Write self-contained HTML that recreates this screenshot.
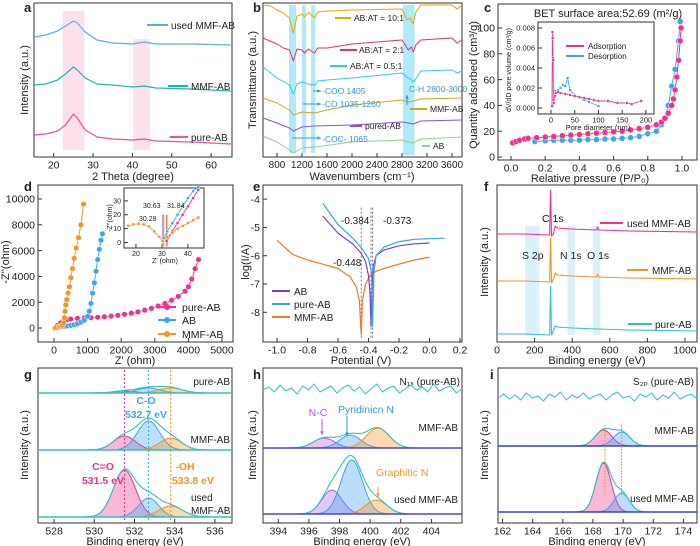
<!DOCTYPE html>
<html><head><meta charset="utf-8"><style>
html,body{margin:0;padding:0;background:#fff;}
svg{display:block;font-family:"Liberation Sans",sans-serif;}
</style></head><body>
<svg id="fig" width="700" height="546" viewBox="0 0 700 546"></svg>
<script>
// ---------- DATA ----------
const aX=[15,18,21,23,25,26,28,31,35,40,43,46,55,65];
const aUsed=[37,35,31,26,21,23,32,40,43,44,42,44,44,45];
const aMMF=[85,84,80,74,67,70,78,84,85,87,86,88,89,91];
const aPure=[135,134,131,125,114,118,130,137,139,140,139,141,142,144];
const b101X=[576,700,800,900,1000,1060,1120,1200,1240,1300,1400,1450,1600,2000,2800,2880,2930,2980,3020,3100,3600,3680,3760];
const b101Y=[5,6,10,13,18,33,16,14,17,12,18,12,11,10,9,20,18,24,12,5,5,9,5];
const b21X=[576,800,900,1000,1060,1120,1200,1240,1300,1400,1450,1600,2000,2800,2900,2950,2980,3020,3100,3600,3680,3760];
const b21Y=[38,44,48,50,61,49,50,53,49,53,48,48,44,40,50,47,52,45,40,38,43,40];
const b051X=[576,800,1000,1060,1120,1200,1300,1400,1450,1600,2000,2800,2900,2950,2990,3050,3100,3600,3680,3760];
const b051Y=[67,78,85,94,84,82,84,85,81,80,78,73,78,80,82,76,71,70,73,71];
const bMMFX=[576,800,1000,1060,1200,1400,1600,2000,2800,2900,2980,3100,3760];
const bMMFY=[98,103,110,115,112,113,110,105,100,102,101,99,98];
const bPurX=[576,800,1000,1060,1200,1400,2000,2800,2900,2980,3100,3760];
const bPurY=[118,123,128,131,127,126,125,122,123,124,121,120];
const bABX=[576,800,1000,1060,1200,1400,2000,2800,2900,2980,3100,3760];
const bABY=[136,142,150,153,148,147,142,140,142,143,139,137];
const bBands=[[992,1104],[1200,1264],[1344,1408],[2816,3000]];
const cAdsP=[0.01,0.03,0.05,0.08,0.1,0.15,0.2,0.25,0.3,0.35,0.4,0.45,0.5,0.55,0.6,0.65,0.7,0.75,0.8,0.85,0.88,0.9,0.92,0.94,0.95,0.96,0.97,0.98,0.99,0.995];
const cAdsQ=[11,12,13,14,14.5,15,15.5,16,16.5,17,17.5,18,18.5,19,19.5,20,21,22,23,25,27,30,34,40,45,52,62,75,90,100];
const cDesP=[0.14,0.2,0.25,0.3,0.35,0.4,0.45,0.5,0.55,0.6,0.65,0.7,0.75,0.8,0.85,0.88,0.9,0.92,0.94,0.96,0.98,0.99];
const cDesQ=[12,12.5,13,13,13,13,13.5,13.5,14,14,14.5,15,16,18,20,25,30,40,55,68,90,105];
const ciAdsD=[2,3,3.5,4,4.5,5,6,8,10,15,20,30,40,50,60,70,80,90,100,120,140,160,170,190];
const ciAdsV=[0.0002,0.0076,0.007,0.005,0.0048,0.0008,0.0005,0.0012,0.0015,0.0016,0.0015,0.0014,0.0013,0.0012,0.0011,0.001,0.0009,0.0008,0.0007,0.0007,0.0005,0.0005,0.0004,0.0007];
const ciDesD=[4,6,8,10,15,20,25,30,35,40,50,60,70,80,100];
const ciDesV=[0.0003,0.001,0.0017,0.0017,0.0018,0.002,0.0023,0.0022,0.003,0.0018,0.0013,0.001,0.0008,0.0006,0.0002];
const dPureX=[50,100,200,300,400,500,700,900,1100,1300,1500,1700,1900,2100,2300,2500,2700,2900,3100,3300,3500,3700,3900,4000,4100,4200,4300];
const dPureY=[0,200,400,550,650,700,750,780,800,830,870,920,980,1060,1150,1250,1380,1520,1700,1900,2150,2450,2850,3200,3800,4600,5300];
const dABX=[50,100,200,300,400,500,600,700,800,900,1000,1050,1100,1150,1200,1250,1300,1350,1400,1440];
const dABY=[0,50,100,130,160,200,250,330,450,600,900,1300,1900,2700,3500,4400,5300,6100,6800,7300];
const dMMFX=[30,80,150,200,250,290,310,330,350,380,420,460,500,550,600,660,730,800,880];
const dMMFY=[0,50,100,150,220,400,800,1300,1800,2200,2700,3200,3900,4600,5400,6200,7000,8000,9600];
const diArcX=[17,19,21,23,25,27,29,30.3];
const diArcY=[12,13,13.5,13,11.5,8,4,1];
const diPureX=[31.8,34,36,38,40,42,44];
const diPureY=[1,8,14,20,26,32,38];
const diABX=[30.6,32,34,36,38,40,42,44];
const diABY=[1,8,14,20,26,32,37,40];
const diMMFX=[30.3,32,34,36,38,40,42,44];
const diMMFY=[1,4,7,10,12,14,16,18];
const diMarks=[30.28,30.63,31.84];
const eABX=[-0.7,-0.6,-0.5,-0.45,-0.42,-0.4,-0.39,-0.384,-0.378,-0.37,-0.35,-0.3,-0.2,-0.1,0];
const eABY=[-4.6,-5.2,-5.6,-5.9,-6.2,-6.7,-7.3,-8.5,-7.3,-6.4,-6.0,-5.8,-5.65,-5.58,-5.55];
const ePureX=[-0.7,-0.6,-0.5,-0.45,-0.4,-0.38,-0.373,-0.365,-0.35,-0.3,-0.2,-0.1,0,0.1];
const ePureY=[-4.15,-4.9,-5.4,-5.7,-6.1,-6.6,-8.5,-6.6,-6.0,-5.7,-5.5,-5.42,-5.4,-5.38];
const eMMFX=[-1.0,-0.9,-0.8,-0.7,-0.6,-0.52,-0.48,-0.46,-0.448,-0.44,-0.42,-0.39,-0.35,-0.3,-0.2,-0.1,0];
const eMMFY=[-5.45,-5.95,-6.15,-6.3,-6.45,-6.75,-7.1,-7.6,-8.8,-7.6,-7.0,-6.7,-6.55,-6.45,-6.3,-6.15,-6.05];
const eMarks=[-0.448,-0.384,-0.373];
const fX=[0,150,280,285,290,300,310,320,400,530,535,540,700,1064];
const fUsed=[234,234,235,190,236,234,226,228,229,230,227,230,231,232];
const fMMF=[281,281,282,238,283,279,273,275,276,277,274,277,278,279];
const fPure=[334,334,335,286,335,331,326,327,328,329,329,329,330,331];
const fBands=[[150,225],[375,415],[510,550]];
const gBase=[393,450,517];
const gPeaks=[[[531.5,2,0.55],[532.7,5,0.6],[533.8,5,0.6]],[[531.5,14,0.55],[532.7,29,0.55],[533.8,12,0.55]],[[531.5,47,0.55],[532.7,19,0.5],[533.8,11,0.6]]];
const hBase=[390,448,514];
const hPeaks=[[],[[397.0,10,0.7],[398.7,13,0.7],[400.5,20,0.75]],[[397.5,24,0.65],[398.8,54,0.7],[400.4,14,0.7]]];
const iBase=[398,446,512];
const iPeaks=[[],[[168.7,16,0.55],[169.9,14,0.55]],[[168.7,49,0.5],[169.9,19,0.5]]];
const hPureNoise=[0,-3,2,-5,1,-2,4,-4,0,-6,2,-1,-4,3,-2,-5,1,-3,4,-1,-6,2,-2,-4,3,-1,-5,0,-3,2,-6,1,-2,-4,3,-1];
const iPureNoise=[0,-4,1,-3,2,-5,0,-2,3,-4,-1,-6,2,-3,0,-5,1,-2,-4,2,-3,-6,0,-2,3,-4,-1,-5,2,-3,0,-6,1,-2,-4,1];

// ---------- HELPERS ----------
const NS="http://www.w3.org/2000/svg";
const svg=document.getElementById('fig');
function mk(tag,a,name){
  const e=document.createElementNS(NS,tag);
  for(const k in a) e.setAttribute(k,a[k]);
  
  
  svg.appendChild(e);return e;
}
function txt(x,y,s,name,o){
  o=o||{};
  const e=mk('text',{x:x,y:y,'font-size':o.fs||10.5,fill:o.fill||'#222','text-anchor':o.anchor||'start','font-weight':o.bold?'bold':'normal'},name);
  if(o.rot) e.setAttribute('transform','rotate(-90 '+x+' '+y+')');
  e.textContent=s;return e;
}
function axes(id,l,t,r,b,x0,x1,y0,y1,xt,yt,fs,xf,yf){
  const sx=v=>l+(v-x0)/(x1-x0)*(r-l);
  const sy=v=>b-(v-y0)/(y1-y0)*(b-t);
  mk('rect',{x:l,y:t,width:r-l,height:b-t,fill:'none',stroke:'#333','stroke-width':1},id+'-frame');
  xt.forEach(v=>{
    mk('line',{x1:sx(v),x2:sx(v),y1:b,y2:b-4,stroke:'#333'},id+'-x-tick');
    txt(sx(v),b+fs+1,xf?xf(v):String(v),id+'-x-tick-label',{fs:fs,anchor:'middle'});
  });
  yt.forEach(v=>{
    mk('line',{x1:l,x2:l+4,y1:sy(v),y2:sy(v),stroke:'#333'},id+'-y-tick');
    txt(l-3,sy(v)+fs*0.35,yf?yf(v):String(v),id+'-y-tick-label',{fs:fs,anchor:'end'});
  });
  return {sx,sy};
}
function poly(A,xs,ys,col,w,name,extra){
  const d=xs.map((x,i)=>(i?'L':'M')+A.sx(x).toFixed(1)+' '+A.sy(ys[i]).toFixed(1)).join(' ');
  const a={d:d,fill:'none',stroke:col,'stroke-width':w||1.2,'stroke-linejoin':'round'};
  if(extra) for(const k in extra) a[k]=extra[k];
  return mk('path',a,name);
}
function dots(A,xs,ys,col,r,name){
  xs.forEach((x,i)=>{mk('circle',{cx:A.sx(x),cy:A.sy(ys[i]),r:r,fill:col,stroke:'#fff','stroke-width':0.5},name);});
}
function gauss(x,p){return p[1]*Math.exp(-((x-p[0])**2)/(2*p[2]*p[2]));}
function fitPanel(A,x0,x1,bases,peaks,cols,envCol,baseCol,id,noise){
  bases.forEach((base,k)=>{
    const pk=peaks[k];const N=120;const xs=[];
    for(let i=0;i<=N;i++) xs.push(x0+(x1-x0)*i/N);
    if(!pk.length && noise){
      const nx=noise.map((_,i)=>x0+(x1-x0)*i/(noise.length-1));
      poly(A,nx,noise.map(v=>base+v),envCol,1,id+'-pure-trace');
      return;
    }
    pk.forEach((p,j)=>{
      const ys=xs.map(x=>base-gauss(x,p));
      const d='M'+A.sx(x0)+' '+A.sy(base)+' '+xs.map((x,i)=>'L'+A.sx(x).toFixed(1)+' '+A.sy(ys[i]).toFixed(1)).join(' ')+' L'+A.sx(x1)+' '+A.sy(base)+' Z';
      mk('path',{d:d,fill:cols[j],'fill-opacity':0.35,stroke:cols[j],'stroke-width':1},id+'-peak-'+k+'-'+j);
    });
    const env=xs.map(x=>base-pk.reduce((s,p)=>s+gauss(x,p),0));
    poly(A,xs,env,envCol,1.1,id+'-envelope-'+k);
    poly(A,[x0,x1],[base,base],baseCol,1.5,id+'-baseline-'+k);
  });
}
function legLine(x1,x2,y,col,name){mk('line',{x1:x1,x2:x2,y1:y,y2:y,stroke:col,'stroke-width':2},name);}
function arrow(x1,y1,x2,y2,col,name){
  mk('line',{x1:x1,y1:y1,x2:x2,y2:y2,stroke:col,'stroke-width':1},name);
  const ang=Math.atan2(y2-y1,x2-x1),s=4;
  const p=[[x2,y2],[x2-s*Math.cos(ang-0.45),y2-s*Math.sin(ang-0.45)],[x2-s*Math.cos(ang+0.45),y2-s*Math.sin(ang+0.45)]];
  mk('polygon',{points:p.map(q=>q.join(',')).join(' '),fill:col},name+'-head');
}
const PINK='#f0308a',BLUE='#3aa8ee',TEAL='#2ec4c4',ORANGE='#f7931e',PURPLE='#7b3fd0';
const f1=v=>v.toFixed(1);

// ---------- PANEL A ----------
{
const A=axes('a',34,3,232,157,15,65.3,157,3,[20,30,40,50,60],[],10.5);
mk('rect',{x:A.sx(22.3),y:11,width:A.sx(27.8)-A.sx(22.3),height:139,fill:'#fce0ec'},'a-band-25');
mk('rect',{x:A.sx(40.2),y:39,width:A.sx(44.5)-A.sx(40.2),height:111,fill:'#fce0ec'},'a-band-43');
poly(A,aX,aUsed,'#5aaef0',1.2,'a-used-mmf-ab-line');
poly(A,aX,aMMF,'#20b5b5',1.2,'a-mmf-ab-line');
poly(A,aX,aPure,'#f0509a',1.2,'a-pure-ab-line');
legLine(147,168,25,'#5aaef0','a-legend-swatch');txt(171,29,'used MMF-AB','a-legend-used',{fs:10});
legLine(168,188,86,'#20b5b5','a-legend-swatch');txt(191,90,'MMF-AB','a-legend-mmf',{fs:10});
legLine(170,188,137,'#f0509a','a-legend-swatch');txt(191,141,'pure-AB','a-legend-pure',{fs:10});
txt(133,180,'2 Theta (degree)','a-x-axis-title',{fs:11,anchor:'middle'});
txt(28,80,'Intensity (a.u.)','a-y-axis-title',{fs:11,anchor:'middle',rot:1});
txt(24,12,'a','a-panel-label',{fs:13,bold:1});
}
// ---------- PANEL B ----------
{
const A=axes('b',263,3,462,157,576,3760,157,3,[800,1200,1600,2000,2400,2800,3200,3600],[],10);
bBands.forEach(r=>mk('rect',{x:A.sx(r[0]),y:5,width:A.sx(r[1])-A.sx(r[0]),height:r[1]>2000?150:148,fill:'#aeeaf8'},'b-band'));
poly(A,b101X,b101Y,'#e8a800',1,'b-ab-at-10-1-line');
poly(A,b21X,b21Y,'#e8306a',1,'b-ab-at-2-1-line');
poly(A,b051X,b051Y,'#30c8f0',1,'b-ab-at-0-5-1-line');
poly(A,bMMFX,bMMFY,'#d8a020',1,'b-mmf-ab-line');
poly(A,bPurX,bPurY,'#9050c8',1,'b-pured-ab-line');
poly(A,bABX,bABY,'#90d090',1,'b-ab-line');
legLine(335,351,18,'#e8a800','b-legend-swatch');txt(354,21,'AB:AT = 10:1','b-label-10-1',{fs:8.5});
legLine(340,357,50,'#e8306a','b-legend-swatch');txt(359,53,'AB:AT = 2:1','b-label-2-1',{fs:8.5});
legLine(330,347,66,'#30c8f0','b-legend-swatch');txt(350,69,'AB:AT = 0.5:1','b-label-0-5-1',{fs:8.5});
txt(322,94,'-COO 1405','b-label-coo',{fs:8.5,fill:'#2a9be0'});
txt(322,107,'-CO 1035-1260','b-label-co',{fs:8.5,fill:'#2a9be0'});
txt(322,142,'-COC- 1065','b-label-coc',{fs:8.5,fill:'#2a9be0'});
txt(409,92,'C-H 2800-3000','b-label-ch',{fs:8.5,fill:'#2a9be0'});
arrow(313,91,321,91,'#2a9be0','b-arrow-coo');arrow(303,104,321,104,'#2a9be0','b-arrow-co');arrow(292,138,321,138,'#2a9be0','b-arrow-coc');
arrow(407,105,407,95,'#2a9be0','b-arrow-ch');
legLine(410,427,109,'#d8a020','b-legend-swatch');txt(430,112,'MMF-AB','b-label-mmf',{fs:8.5});
legLine(350,362,126,'#9050c8','b-legend-swatch');txt(365,129,'pured-AB','b-label-pured',{fs:8.5});
legLine(422,430,146,'#90d090','b-legend-swatch');txt(433,149,'AB','b-label-ab',{fs:8.5});
txt(362,180,'Wavenumbers (cm⁻¹)','b-x-axis-title',{fs:11,anchor:'middle'});
txt(256,80,'Transmittance (a.u.)','b-y-axis-title',{fs:11,anchor:'middle',rot:1});
txt(253,12,'b','b-panel-label',{fs:13,bold:1});
}
// ---------- PANEL C ----------
{
const A=axes('c',498,4,697,160,-0.076,1.088,-2.3,118.6,[0,0.2,0.4,0.6,0.8,1.0],[0,20,40,60,80,100],10.5,f1);
poly(A,cDesP,cDesQ,BLUE,1,'c-desorption-line');dots(A,cDesP,cDesQ,BLUE,3,'c-desorption-point');
poly(A,cAdsP,cAdsQ,PINK,1,'c-adsorption-line');dots(A,cAdsP,cAdsQ,PINK,3,'c-adsorption-point');
txt(608,17,'BET surface area:52.69 (m²/g)','c-bet-title',{fs:11,anchor:'middle'});
const I=axes('ci',538,22,654,114,-27.4,217,-0.0006,0.0086,[0,50,100,150,200],[0,0.002,0.004,0.006,0.008],7.5,null,v=>v.toFixed(3));
poly(I,ciDesD,ciDesV,BLUE,0.9,'c-inset-desorption-line');dots(I,ciDesD,ciDesV,BLUE,1.5,'c-inset-desorption-point');
poly(I,ciAdsD,ciAdsV,PINK,0.9,'c-inset-adsorption-line');dots(I,ciAdsD,ciAdsV,PINK,1.5,'c-inset-adsorption-point');
legLine(566,584,46,PINK,'c-inset-legend-swatch');txt(588,49,'Adsorption','c-inset-legend-adsorption',{fs:8});
legLine(566,584,56,BLUE,'c-inset-legend-swatch');txt(588,59,'Desorption','c-inset-legend-desorption',{fs:8});
txt(598,130,'Pore diameter (nm)','c-inset-x-title',{fs:7.5,anchor:'middle'});
txt(511,70,'dV/dD pore volume (cm³/g)','c-inset-y-title',{fs:7,anchor:'middle',rot:1});
txt(590,182,'Relative pressure (P/P₀)','c-x-axis-title',{fs:11,anchor:'middle'});
txt(477,85,'Quantity adsorbed (cm³/g)','c-y-axis-title',{fs:11,anchor:'middle',rot:1});
txt(484,12,'c','c-panel-label',{fs:13,bold:1});
}
// ---------- PANEL D ----------
{
const A=axes('d',38,185,233,342,-476,5327,-1085,11085,[0,1000,2000,3000,4000,5000],[0,2000,4000,6000,8000,10000],10.5);
poly(A,dPureX,dPureY,PINK,1,'d-pure-ab-line');dots(A,dPureX,dPureY,PINK,2.8,'d-pure-ab-point');
poly(A,dABX,dABY,BLUE,1,'d-ab-line');dots(A,dABX,dABY,BLUE,2.8,'d-ab-point');
poly(A,dMMFX,dMMFY,ORANGE,1,'d-mmf-ab-line');dots(A,dMMFX,dMMFY,ORANGE,2.8,'d-mmf-ab-point');
const I=axes('di',124,188,204,248,15.4,46.2,-4,39.3,[20,30,40],[0,10,20,30],7);
const mc=['#b0a0ff','#f0a040','#f08040'];
diMarks.forEach((m,i)=>mk('line',{x1:I.sx(m),x2:I.sx(m),y1:I.sy(-3),y2:I.sy(20),stroke:mc[i],'stroke-width':1.5},'d-inset-marker'));
poly(I,diPureX,diPureY,PINK,0.9,'d-inset-pure-line');dots(I,diPureX,diPureY,PINK,1.6,'d-inset-pure-point');
poly(I,diABX,diABY,BLUE,0.9,'d-inset-ab-line');dots(I,diABX,diABY,BLUE,1.6,'d-inset-ab-point');
poly(I,diMMFX,diMMFY,ORANGE,0.9,'d-inset-mmf-line');dots(I,diMMFX,diMMFY,ORANGE,1.6,'d-inset-mmf-point');
poly(I,diArcX,diArcY,ORANGE,0.9,'d-inset-arc-line');dots(I,diArcX,diArcY,ORANGE,1.6,'d-inset-arc-point');
txt(143,208,'30.63','d-inset-label-3063',{fs:7});txt(167,208,'31.84','d-inset-label-3184',{fs:7});txt(139,221,'30.28','d-inset-label-3028',{fs:7});
txt(165,263,"Z' (ohm)",'d-inset-x-title',{fs:7,anchor:'middle'});
txt(112,218,"-Z''(ohm)",'d-inset-y-title',{fs:7,anchor:'middle',rot:1});
[['pure-AB',PINK,307],['AB',BLUE,320],['MMF-AB',ORANGE,334]].forEach(l=>{
  legLine(158,176,l[2],l[1],'d-legend-swatch');
  mk('circle',{cx:167,cy:l[2],r:3,fill:l[1]},'d-legend-marker');
  txt(182,l[2]+4,l[0],'d-legend-label',{fs:10.5});
});
txt(135,364,"Z' (ohm)",'d-x-axis-title',{fs:11,anchor:'middle'});
txt(9,262,"-Z''(ohm)",'d-y-axis-title',{fs:11,anchor:'middle',rot:1});
txt(24,191,'d','d-panel-label',{fs:13,bold:1});
}
// ---------- PANEL E ----------
{
const A=axes('e',263,185,462,342,-1.092,0.213,-9.05,-3.5,[-1.0,-0.8,-0.6,-0.4,-0.2,0.0,0.2],[-4,-5,-6,-7,-8],10.5,f1);
eMarks.forEach(m=>mk('line',{x1:A.sx(m),x2:A.sx(m),y1:A.sy(-4.3),y2:A.sy(-8.9),stroke:'#555','stroke-dasharray':'2,2','stroke-width':0.8},'e-potential-marker'));
poly(A,eMMFX,eMMFY,'#f07830',1.2,'e-mmf-ab-line');
poly(A,eABX,eABY,PURPLE,1.2,'e-ab-line');
poly(A,ePureX,ePureY,'#30a8f0',1.2,'e-pure-ab-line');
txt(341,224,'-0.384','e-label-0384',{fs:10});txt(383,224,'-0.373','e-label-0373',{fs:10});txt(333,266,'-0.448','e-label-0448',{fs:10});
[['AB',PURPLE,291],['pure-AB','#30a8f0',304],['MMF-AB','#f07830',317]].forEach(l=>{
  legLine(272,290,l[2],l[1],'e-legend-swatch');txt(294,l[2]+4,l[0],'e-legend-label',{fs:10});
});
txt(361,364,'Potential (V)','e-x-axis-title',{fs:11,anchor:'middle'});
txt(249,262,'log(I/A)','e-y-axis-title',{fs:11,anchor:'middle',rot:1});
txt(253,191,'e','e-panel-label',{fs:13,bold:1});
}
// ---------- PANEL F ----------
{
const A=axes('f',497,185,697,342,0,1064,342,185,[0,200,400,600,800,1000],[],10.5);
fBands.forEach(r=>mk('rect',{x:A.sx(r[0]),y:226,width:A.sx(r[1])-A.sx(r[0]),height:109,fill:'#dcf0fa'},'f-band'));
poly(A,fX,fUsed,PINK,1.1,'f-used-mmf-ab-line');
poly(A,fX,fMMF,ORANGE,1.1,'f-mmf-ab-line');
poly(A,fX,fPure,TEAL,1.1,'f-pure-ab-line');
txt(542,222,'C 1s','f-label-c1s',{fs:10.5});txt(522,259,'S 2p','f-label-s2p',{fs:10.5});
txt(560,259,'N 1s','f-label-n1s',{fs:10.5});txt(587,259,'O 1s','f-label-o1s',{fs:10.5});
legLine(600,623,223,PINK,'f-legend-swatch');txt(627,227,'used MMF-AB','f-legend-used',{fs:10});
legLine(627,648,270,ORANGE,'f-legend-swatch');txt(652,274,'MMF-AB','f-legend-mmf',{fs:10});
legLine(628,652,324,TEAL,'f-legend-swatch');txt(655,328,'pure-AB','f-legend-pure',{fs:10});
txt(597,364,'Binding energy (eV)','f-x-axis-title',{fs:11,anchor:'middle'});
txt(488,262,'Intensity (a.u.)','f-y-axis-title',{fs:11,anchor:'middle',rot:1});
txt(484,191,'f','f-panel-label',{fs:13,bold:1});
}
// ---------- PANEL G ----------
{
const A=axes('g',38,368,232,523,527.2,536.85,523,368,[528,530,532,534,536],[],10.5);
[[531.5,PINK],[532.7,BLUE],[533.8,ORANGE]].forEach(v=>mk('line',{x1:A.sx(v[0]),x2:A.sx(v[0]),y1:370,y2:520,stroke:v[1],'stroke-dasharray':'2,2'},'g-peak-marker'));
fitPanel(A,527.2,536.85,gBase,gPeaks,[PINK,BLUE,ORANGE],TEAL,TEAL,'g');
txt(230,385,'pure-AB','g-label-pure',{fs:10,anchor:'end'});
txt(146,404,'C-O','g-label-co',{fs:10.5,fill:BLUE,bold:1,anchor:'middle'});
txt(146,418,'532.7 eV','g-label-co-ev',{fs:10.5,fill:BLUE,bold:1,anchor:'middle'});
txt(230,443,'MMF-AB','g-label-mmf',{fs:10,anchor:'end'});
txt(103,470,'C=O','g-label-co-double',{fs:10.5,fill:PINK,bold:1,anchor:'middle'});
txt(103,484,'531.5 eV','g-label-co-double-ev',{fs:10.5,fill:PINK,bold:1,anchor:'middle'});
txt(185,470,'-OH','g-label-oh',{fs:10.5,fill:ORANGE,bold:1,anchor:'middle'});
txt(193,484,'533.8 eV','g-label-oh-ev',{fs:10.5,fill:ORANGE,bold:1,anchor:'middle'});
txt(191,501,'used','g-label-used-1',{fs:10});txt(191,514,'MMF-AB','g-label-used-2',{fs:10});
txt(135,545,'Binding energy (eV)','g-x-axis-title',{fs:11,anchor:'middle'});
txt(28,445,'Intensity (a.u.)','g-y-axis-title',{fs:11,anchor:'middle',rot:1});
txt(24,379,'g','g-panel-label',{fs:13,bold:1});
}
// ---------- PANEL H ----------
{
const A=axes('h',263,368,462,523,393.0,406.0,523,368,[394,396,398,400,402,404],[],10.5);
fitPanel(A,393.0,406.0,hBase,hPeaks,['#b060e0','#3aa0ee',ORANGE],TEAL,'#5040e0','h',hPureNoise);
txt(460,385,'N₁ₛ (pure-AB)','h-label-pure',{fs:10,anchor:'end'});
txt(318,416,'N-C','h-label-nc',{fs:10.5,fill:'#c050e0',anchor:'middle'});
txt(338,413,'Pyridinicn N','h-label-pyridinic',{fs:10.5,fill:'#2a9be0'});
txt(458,431,'MMF-AB','h-label-mmf',{fs:10,anchor:'end'});
txt(376,476,'Graphitic N','h-label-graphitic',{fs:10.5,fill:ORANGE});
txt(458,503,'used MMF-AB','h-label-used',{fs:10,anchor:'end'});
arrow(322,419,322,435,'#c050e0','h-arrow-nc');arrow(347,416,347,436,'#2a9be0','h-arrow-pyridinic');arrow(378,487,378,497,ORANGE,'h-arrow-graphitic');
txt(362,545,'Binding energy (eV)','h-x-axis-title',{fs:11,anchor:'middle'});
txt(256,445,'Intensity (a.u.)','h-y-axis-title',{fs:11,anchor:'middle',rot:1});
txt(253,379,'h','h-panel-label',{fs:13,bold:1});
}
// ---------- PANEL I ----------
{
const A=axes('i',498,368,697,523,161.7,174.9,523,368,[162,164,166,168,170,172,174],[],10.5);
fitPanel(A,161.7,174.9,iBase,iPeaks,[PINK,'#3aa0ee'],TEAL,'#3040e0','i',iPureNoise);
[168.8,169.9].forEach(v=>mk('line',{x1:A.sx(v),x2:A.sx(v),y1:425,y2:495,stroke:'#f0a030','stroke-dasharray':'2,1'},'i-peak-marker'));
txt(694,385,'S₂ₚ (pure-AB)','i-label-pure',{fs:10,anchor:'end'});
txt(694,434,'MMF-AB','i-label-mmf',{fs:10,anchor:'end'});
txt(694,502,'used MMF-AB','i-label-used',{fs:10,anchor:'end'});
txt(597,545,'Binding energy (eV)','i-x-axis-title',{fs:11,anchor:'middle'});
txt(488,445,'Intensity (a.u.)','i-y-axis-title',{fs:11,anchor:'middle',rot:1});
txt(490,379,'i','i-panel-label',{fs:13,bold:1});
}
</script>
</body></html>
